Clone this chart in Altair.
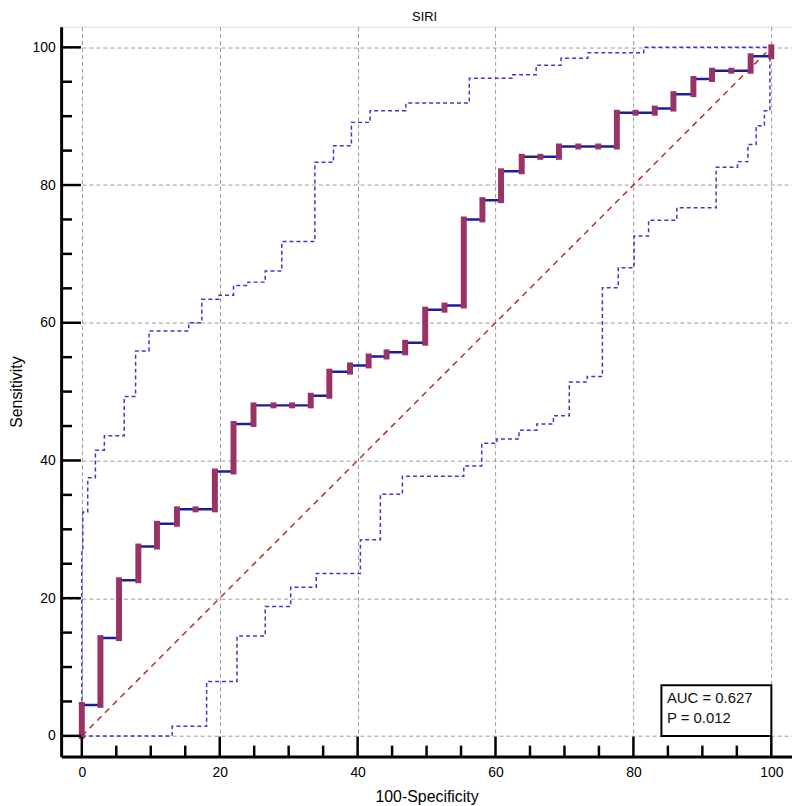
import altair as alt
import pandas as pd

# ---- data ----
# ROC curve, step points: 100-Specificity and the Sensitivity level reached there
roc_x = [0, 0, 2.7, 5.4, 8.2, 10.9, 13.8, 16.5, 19.3, 22.0, 24.9, 27.8, 30.5, 33.2,
         35.9, 38.9, 41.6, 44.2, 46.9, 49.8, 52.6, 55.4, 58.1, 60.8, 63.8, 66.5,
         69.2, 72.0, 74.9, 77.6, 80.3, 83.1, 85.8, 88.7, 91.4, 94.2, 97.0, 100]
roc_y = [0, 4.5, 14.2, 22.6, 27.5, 30.8, 32.9, 32.9, 38.4, 45.3, 48.0, 48.0, 48.0, 49.4,
         52.9, 53.8, 55.1, 55.7, 57.1, 61.9, 62.5, 75.0, 77.8, 82.0, 84.1, 84.1,
         85.6, 85.6, 85.6, 90.5, 90.5, 91.1, 93.2, 95.4, 96.6, 96.6, 98.7, 100]

# upper 95% confidence bound (step points)
up_x = [0, 0, 0.15, 0.86, 1.97, 3.27, 6.15, 7.8, 9.75, 15.5, 17.4, 19.9, 22.0, 24.1,
        26.6, 29.0, 33.8, 36.5, 39.1, 41.8, 47.0, 56.2, 62.5, 65.9, 69.5, 73.4, 81.5, 100]
up_y = [0, 27.0, 32.5, 37.5, 41.5, 43.6, 49.3, 55.9, 58.8, 60.0, 63.4, 64.0, 65.4, 65.9,
        67.5, 71.8, 83.3, 85.7, 89.1, 90.8, 91.9, 95.5, 96.0, 97.4, 98.4, 99.2, 100, 100]

# lower 95% confidence bound (step points)
lo_x = [0, 13.1, 18.1, 22.5, 26.6, 30.3, 34.0, 40.4, 43.3, 46.5, 55.4, 58.0, 60.2, 63.4,
        66.0, 68.4, 70.7, 73.3, 75.5, 77.8, 80.1, 82.2, 86.3, 92.0, 95.1, 96.6, 97.8,
        99.0, 99.8, 100]
lo_y = [0, 1.4, 7.9, 14.5, 18.8, 21.6, 23.6, 28.5, 35.1, 37.7, 39.2, 42.5, 43.1, 44.4,
        45.3, 46.5, 51.4, 52.2, 65.1, 68.0, 72.6, 74.9, 76.7, 82.6, 83.4, 85.9, 88.6,
        90.8, 100, 100]

diag_x = [0, 100]
diag_y = [0, 100]

grid_vals = [0, 20, 40, 60, 80, 100]
tick_vals = list(range(0, 101, 5))

title_text = "SIRI"
x_title = "100-Specificity"
y_title = "Sensitivity"
stat_lines = ["AUC = 0.627", "P = 0.012"]

# ---- chart ----
W, H = 736, 735
FONT = "Liberation Sans"
xs = alt.Scale(domain=[-3, 103], nice=False, zero=False)
ys = alt.Scale(domain=[-3, 103], nice=False, zero=False)

x_axis = alt.Axis(values=grid_vals, title=x_title, titleFont=FONT, titleFontSize=16,
                  titleFontWeight="normal", titleColor="black", titlePadding=9,
                  labelFont=FONT, labelFontSize=14, labelColor="black", labelPadding=9,
                  ticks=False, tickSize=0, domainColor="black", domainWidth=3,
                  grid=True, gridColor="#9a9a9a", gridDash=[4, 3], gridWidth=1)
y_axis = alt.Axis(values=grid_vals, title=y_title, titleFont=FONT, titleFontSize=16,
                  titleFontWeight="normal", titleColor="black", titlePadding=8,
                  labelFont=FONT, labelFontSize=14, labelColor="black", labelPadding=6,
                  ticks=False, tickSize=0, domainColor="black", domainWidth=3,
                  grid=True, gridColor="#9a9a9a", gridDash=[4, 3], gridWidth=1)

def X(f):
    return alt.X(f, type="quantitative", scale=xs, axis=x_axis)

def Y(f):
    return alt.Y(f, type="quantitative", scale=ys, axis=y_axis)

roc = pd.DataFrame({"x": roc_x, "y": roc_y, "i": range(len(roc_x))})
seg = pd.DataFrame({"x": roc_x[1:], "y0": roc_y[:-1], "y1": roc_y[1:]})
up = pd.DataFrame({"x": up_x, "y": up_y, "i": range(len(up_x))})
lo = pd.DataFrame({"x": lo_x, "y": lo_y, "i": range(len(lo_x))})
diag = pd.DataFrame({"x": diag_x, "y": diag_y})
ticks = pd.DataFrame({"v": tick_vals, "major": [v % 20 == 0 for v in tick_vals]})

band_style = dict(interpolate="step-after", color="#3a3ac8", strokeWidth=1.5,
                  strokeDash=[4, 3])
upper = alt.Chart(up).mark_line(**band_style).encode(x=X("x"), y=Y("y"), order="i:Q")
lower = alt.Chart(lo).mark_line(**band_style).encode(x=X("x"), y=Y("y"), order="i:Q")

diagonal = alt.Chart(diag).mark_line(color="#b3302a", strokeWidth=1.5,
                                     strokeDash=[6, 5]).encode(x=X("x"), y=Y("y"))

roc_line = alt.Chart(roc).mark_line(interpolate="step-after", color="#1c1ca0",
                                    strokeWidth=2.5).encode(x=X("x"), y=Y("y"),
                                                            order="i:Q")
roc_bars = alt.Chart(seg).mark_rule(color="#993366", strokeWidth=6,
                                    strokeCap="square").encode(
    x=X("x"), y=Y("y0"), y2="y1")

tick_style = dict(color="black", strokeWidth=2.5)
xt_major = alt.Chart(ticks).transform_filter("datum.major").mark_rule(**tick_style).encode(
    x=X("v"), y=alt.value(H), y2=alt.value(H - 20))
xt_minor = alt.Chart(ticks).transform_filter("!datum.major").mark_rule(**tick_style).encode(
    x=X("v"), y=alt.value(H), y2=alt.value(H - 11))
yt_major = alt.Chart(ticks).transform_filter("datum.major").mark_rule(**tick_style).encode(
    y=Y("v"), x=alt.value(0), x2=alt.value(20))
yt_minor = alt.Chart(ticks).transform_filter("!datum.major").mark_rule(**tick_style).encode(
    y=Y("v"), x=alt.value(0), x2=alt.value(11))

one = pd.DataFrame({"a": [0]})
box = alt.Chart(one).mark_rect(fill="white", stroke="black", strokeWidth=2).encode(
    x=alt.value(604.5), x2=alt.value(715.2), y=alt.value(663.3), y2=alt.value(714.3))
txt1 = alt.Chart(one).mark_text(text=stat_lines[0], align="left", baseline="alphabetic",
                                font=FONT, fontSize=15, color="#111111").encode(
    x=alt.value(610), y=alt.value(681))
txt2 = alt.Chart(one).mark_text(text=stat_lines[1], align="left", baseline="alphabetic",
                                font=FONT, fontSize=15, color="#111111").encode(
    x=alt.value(610), y=alt.value(701))
title = alt.Chart(one).mark_text(text=title_text, align="center", baseline="alphabetic",
                                 font=FONT, fontSize=13, color="black").encode(
    x=alt.value(366), y=alt.value(-6))

chart = alt.layer(
    upper, lower, diagonal, roc_line, roc_bars,
    xt_major, xt_minor, yt_major, yt_minor, box, txt1, txt2, title
).properties(
    width=W, height=H,
    autosize=alt.AutoSizeParams(type="none"),
    padding={"left": 53.5, "top": 16, "right": 0, "bottom": 47},
).configure_view(stroke=None).configure(background="white")

chart.save("out.html", embed_options={"renderer": "svg", "actions": False})
